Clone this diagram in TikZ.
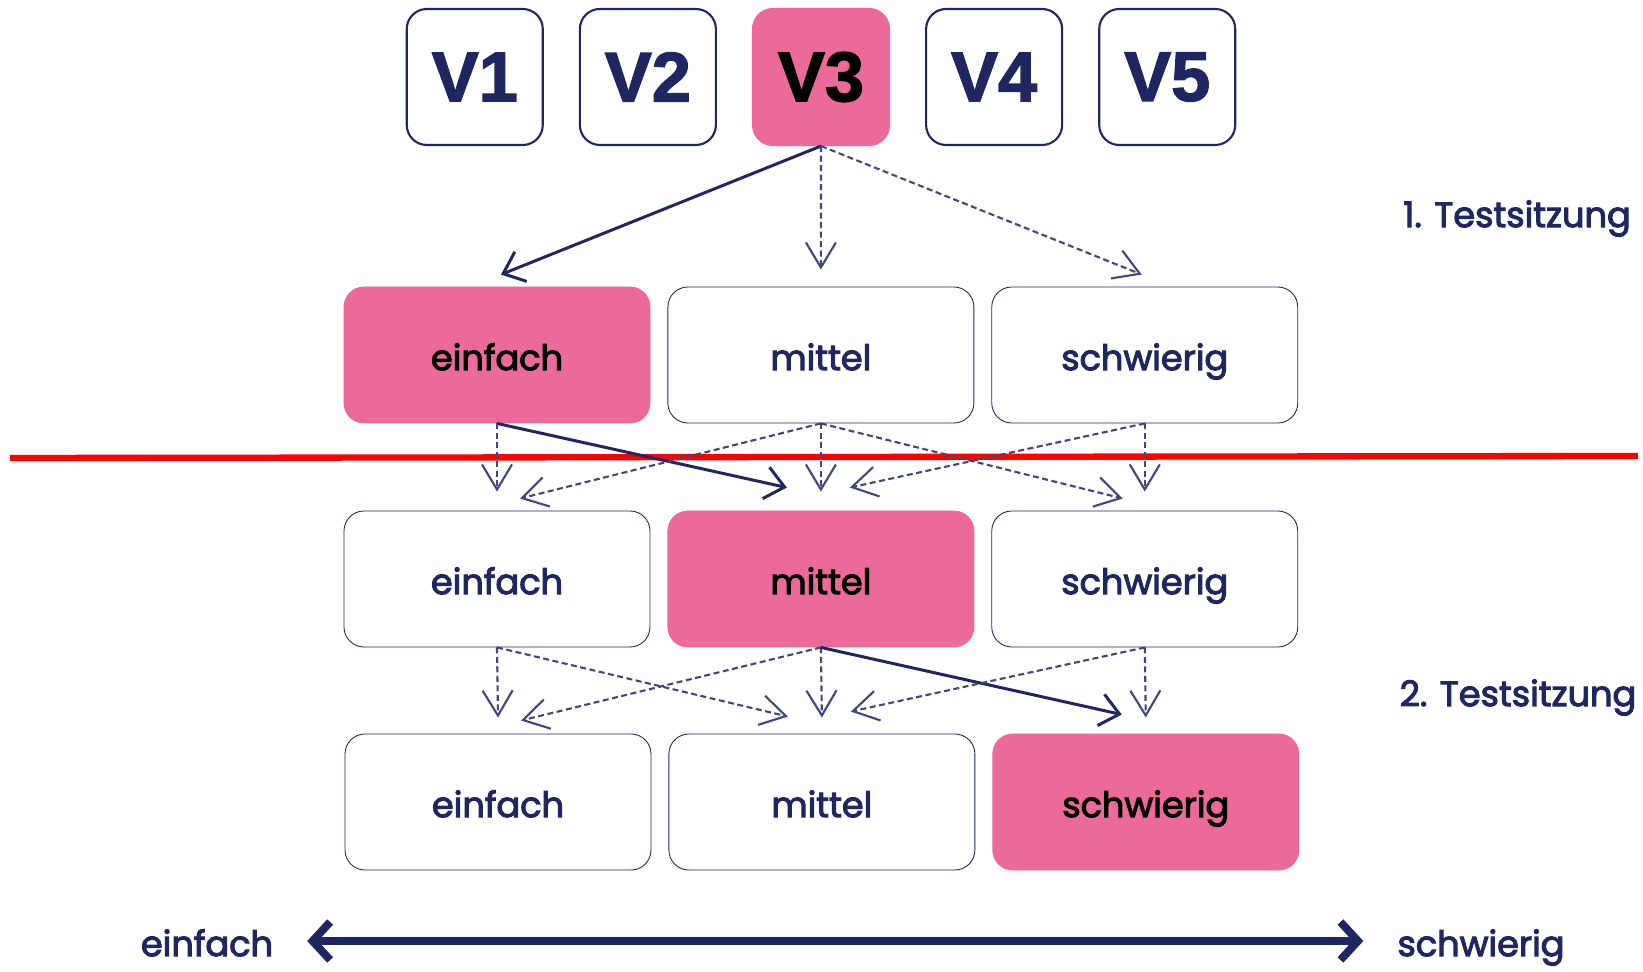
\documentclass[tikz,border=0pt]{standalone}
\usepackage{fontspec}
\setmainfont{Poppins}[FakeBold=3]
\newfontfamily\versionfont{Liberation Sans}[FakeBold=2]
\usepackage{tikz}
\usetikzlibrary{arrows.meta,positioning,calc}
\definecolor{navy}{RGB}{31,38,96}
\definecolor{chosen}{RGB}{236,106,154}
\definecolor{cutline}{RGB}{255,0,0}

\begin{document}
\begin{tikzpicture}[
    x=0.2mm, y=0.2mm,
    version/.style={draw=navy, line width=1.2pt, rounded corners=4mm, minimum width=27.2mm, minimum height=27.2mm, text=navy, font=\versionfont\bfseries\fontsize{40}{40}\selectfont},
    level/.style={draw=navy, line width=0.5pt, rounded corners=4mm, minimum width=61.2mm, minimum height=27.2mm, text=navy, text height=17.2pt, text depth=0pt, font=\fontsize{20}{20}\selectfont},
    picked/.style={fill=chosen, draw=chosen, text=black},
    session/.style={text=navy, font=\fontsize{20}{20}\selectfont, text height=17.2pt, text depth=0pt},
    taken/.style={navy, line width=1.7pt, -{Straight Barb[length=3.8mm, width=6.4mm]}},
    possible/.style={navy!85, line width=1.2pt, dash pattern=on 1.2mm off 0.7mm, -{Straight Barb[length=5mm, width=6mm]}},
    scalearrow/.style={navy, line width=4.5pt, {Straight Barb[length=3.5mm, width=7.6mm]}-{Straight Barb[length=3.5mm, width=7.6mm]}},
    node distance=7mm
]
\useasboundingbox (0,0) rectangle (1643,971);

% Versions
\node[version, picked] (v3) at (821,894) {V3};
\node[version, left=of v3] (v2) {V2};
\node[version, left=of v2] (v1) {V1};
\node[version, right=of v3] (v4) {V4};
\node[version, right=of v4] (v5) {V5};

% 1. Testsitzung
\node[level, picked] (e1) at (497,616) {einfach};
\node[level, right=3.4mm of e1] (m1) {mittel};
\node[level, right=3.4mm of m1] (s1) {schwierig};

% second step
\node[level] (e2) at (497,392) {einfach};
\node[level, picked, right=3.4mm of e2] (m2) {mittel};
\node[level, right=3.4mm of m2] (s2) {schwierig};

% third step
\node[level] (e3) at (498,169) {einfach};
\node[level, right=3.4mm of e3] (m3) {mittel};
\node[level, picked, right=3.4mm of m3] (s3) {schwierig};

% session labels
\node[session] (first) at (1517,759) {1. Testsitzung};
\node[session] (second) at (1518,280) {2. Testsitzung};

% red cut
\draw[cutline, line width=3.6pt] (10,513) -- (1638,515);

% from the version
\draw[taken] (v3.south) -- ($(e1.north)+(4,12)$);
\draw[possible] (v3.south) -- ($(m1.north)+(0,17)$);
\draw[possible] (v3.south) -- ($(s1.north)+(-3,12)$);

% first to second step
\draw[possible] (e1.south) -- ($(e2.north)+(0,19)$);
\draw[taken] (e1.south) -- ($(m2.north)+(-34,23)$);
\draw[possible] (m1.south) -- ($(e2.north)+(23,12)$);
\draw[possible] (m1.south) -- ($(m2.north)+(0,19)$);
\draw[possible] (m1.south) -- ($(s2.north)+(-22,12)$);
\draw[possible] (s1.south) -- ($(m2.north)+(29,23)$);
\draw[possible] (s1.south) -- ($(s2.north)+(0,19)$);

% second to third step
\draw[possible] (e2.south) -- ($(e3.north)+(0,16)$);
\draw[possible] (e2.south) -- ($(m3.north)+(-34,17)$);
\draw[possible] (m2.south) -- ($(e3.north)+(23,13)$);
\draw[possible] (m2.south) -- ($(m3.north)+(0,16)$);
\draw[taken] (m2.south) -- ($(s3.north)+(-24,19)$);
\draw[possible] (s2.south) -- ($(m3.north)+(29,22)$);
\draw[possible] (s2.south) -- ($(s3.north)+(0,16)$);

% difficulty scale
\node[session] (easy) at (207,30) {einfach};
\node[session] (hard) at (1481,30) {schwierig};
\draw[scalearrow] ([xshift=5.6mm]easy.east) -- ([xshift=-5.6mm]hard.west);
\end{tikzpicture}
\end{document}
